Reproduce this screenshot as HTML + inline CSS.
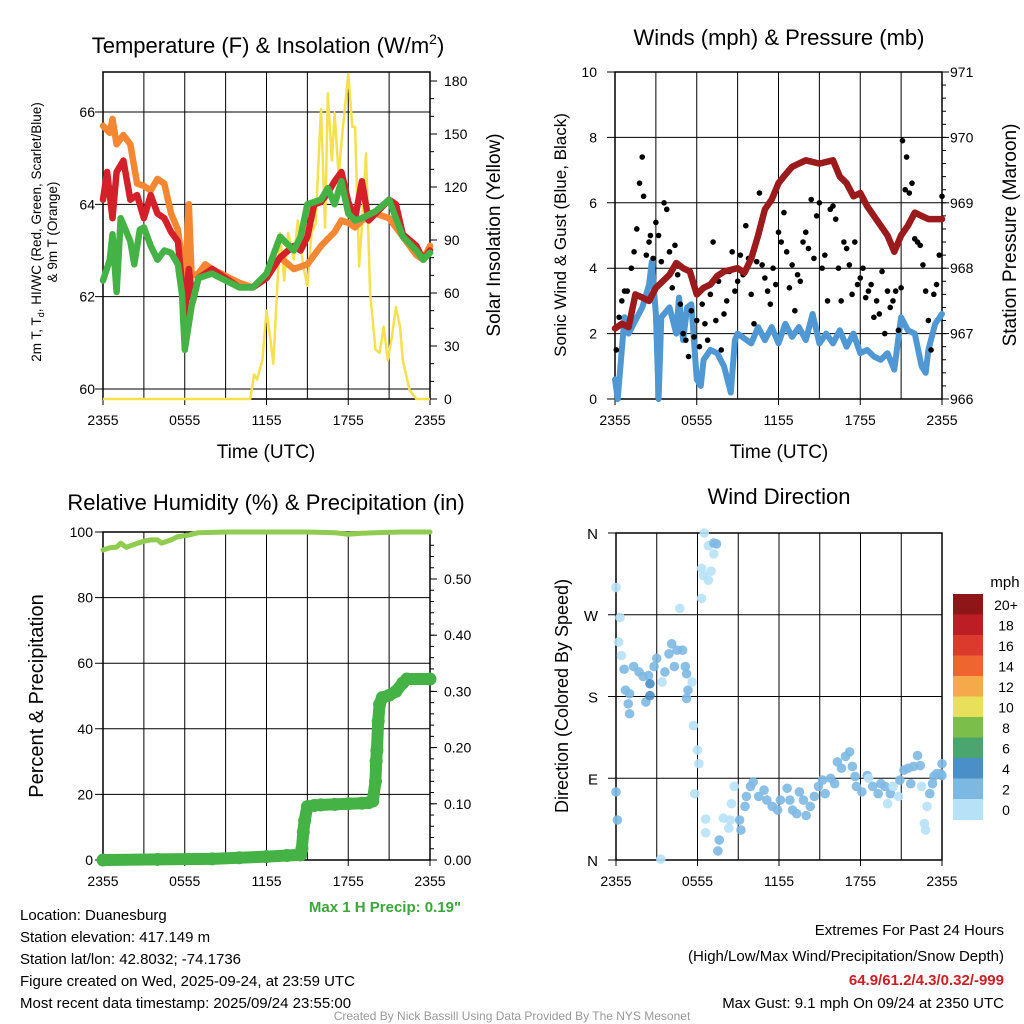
<!DOCTYPE html>
<html><head><meta charset="utf-8"><style>
body{margin:0;background:#fff;}
svg{display:block;font-family:"Liberation Sans",sans-serif;}
</style></head><body>
<svg id="s" width="1024" height="1024" viewBox="0 0 1024 1024">
<rect width="1024" height="1024" fill="#fff"/>
<g id="g"></g>
<text x="268" y="53" font-size="22" text-anchor="middle">Temperature (F) &amp; Insolation (W/m<tspan font-size="14" dy="-9">2</tspan><tspan dy="9">)</tspan></text>
<text x="779" y="45" font-size="22" text-anchor="middle">Winds (mph) &amp; Pressure (mb)</text>
<text x="266" y="510" font-size="22" text-anchor="middle">Relative Humidity (%) &amp; Precipitation (in)</text>
<text x="779" y="504" font-size="22" text-anchor="middle">Wind Direction</text>
<text transform="translate(41,232) rotate(-90)" font-size="13.5" text-anchor="middle">2m T, T<tspan font-size="9" dy="3">d</tspan><tspan dy="-3">, HI/WC (Red, Green, Scarlet/Blue)</tspan></text>
<text transform="translate(57,232) rotate(-90)" font-size="13.5" text-anchor="middle">&amp; 9m T (Orange)</text>
<text transform="translate(500,235) rotate(-90)" font-size="19" text-anchor="middle">Solar Insolation (Yellow)</text>
<text x="266" y="458" font-size="19" text-anchor="middle">Time (UTC)</text>
<text x="779" y="458" font-size="19" text-anchor="middle">Time (UTC)</text>
<text transform="translate(566,235) rotate(-90)" font-size="17" text-anchor="middle">Sonic Wind &amp; Gust (Blue, Black)</text>
<text transform="translate(1016,235) rotate(-90)" font-size="19" text-anchor="middle">Station Pressure (Maroon)</text>
<text transform="translate(43,696) rotate(-90)" font-size="20" text-anchor="middle">Percent &amp; Precipitation</text>
<text transform="translate(568,696) rotate(-90)" font-size="18" text-anchor="middle">Direction (Colored By Speed)</text>
<text x="385" y="912" font-size="15" font-weight="bold" fill="#3aa63a" text-anchor="middle">Max 1 H Precip: 0.19"</text>
<g font-size="15">
<text x="20" y="920">Location: Duanesburg</text>
<text x="20" y="942">Station elevation: 417.149 m</text>
<text x="20" y="964">Station lat/lon: 42.8032; -74.1736</text>
<text x="20" y="986">Figure created on Wed, 2025-09-24, at 23:59 UTC</text>
<text x="20" y="1008">Most recent data timestamp: 2025/09/24 23:55:00</text>
</g>
<g font-size="15" text-anchor="end">
<text x="1004" y="935">Extremes For Past 24 Hours</text>
<text x="1004" y="961">(High/Low/Max Wind/Precipitation/Snow Depth)</text>
<text x="1004" y="985" fill="#cc1f24" font-weight="bold">64.9/61.2/4.3/0.32/-999</text>
<text x="1004" y="1008">Max Gust: 9.1 mph On 09/24 at 2350 UTC</text>
</g>
<text x="512" y="1020" font-size="12" fill="#999" text-anchor="middle">Created By Nick Bassill Using Data Provided By The NYS Mesonet</text>
<text x="1005" y="587" font-size="15" text-anchor="middle">mph</text>
</svg>
<script>
// ---------- data ----------
const tTimes=[0,0.3,0.7,1,1.5,2,2.5,3,3.5,4,4.5,5,5.5,6,6.3,6.6,7,8,9,10,11,12,13,14,14.5,15,15.5,16,16.5,17,17.5,18,18.5,19,19.5,20,21,21.5,22,23,23.5,24];
const tempRed=[64.1,64.7,63.7,64.7,64.95,64.1,64.2,63.7,64.2,63.8,63.7,63.4,63.2,61.6,62.6,61.9,62.4,62.6,62.4,62.2,62.2,62.4,62.85,63.1,63.0,63.3,64.0,64.05,64.25,64.5,64.7,64.05,63.7,64.5,63.65,63.8,64.1,64.0,63.35,63.1,62.8,63.0];
const gTimes=[0,0.5,0.7,1,1.3,2,2.3,2.7,3,3.5,4,4.5,5,5.5,5.8,6,6.5,7,8,9,10,11,12,13,13.5,14,14.5,15,15.5,16,16.5,17,17.5,18,18.5,19,20,21,21.5,22,23,23.5,24];
const tempGreen=[62.35,62.8,63.35,62.1,63.7,63.2,62.7,63.45,63.5,63.1,62.8,63.0,62.95,62.7,62.05,60.85,61.8,62.4,62.5,62.35,62.2,62.2,62.5,63.3,63.15,63.0,63.3,64.0,64.05,64.1,64.35,64.0,64.5,63.8,63.65,63.7,63.85,64.1,63.7,63.3,63.0,62.8,62.95];
const oTimes=[0,0.5,0.7,1,1.5,2,2.5,3,3.5,4,4.5,5,5.5,6,6.3,6.5,7,7.5,8,9,10,11,12,13,14,15,16,17,17.5,18,18.5,19,20,21,22,23,23.5,24];
const tempOrange=[65.7,65.55,65.85,65.3,65.5,65.3,64.45,64.4,64.3,64.55,64.45,63.8,63.45,62.3,64.0,62.45,62.5,62.7,62.6,62.45,62.3,62.2,62.45,62.85,62.6,62.7,63.1,63.4,63.65,63.6,63.5,63.65,63.8,63.7,63.3,62.9,62.8,63.1];
const solTimes=[0,10.8,11.1,11.3,11.7,12,12.3,12.5,13,13.3,13.6,14,14.3,14.7,15,15.3,15.6,16,16.3,16.5,16.8,17,17.3,17.5,18,18.3,18.5,18.8,19,19.3,19.6,20,20.3,20.6,20.9,21.2,21.5,21.8,22,22.5,23,24];
const solar=[0,0,14,11,22,50,33,20,94,67,94,79,101,75,64,94,99,164,97,173,135,162,126,145,184,154,154,75,98,139,60,28,26,41,22,35,52,41,22,5,0,0];
const wTimes=[0,0.2,0.5,0.7,1,1.5,2,2.5,2.7,3,3.2,3.4,4,4.5,4.7,5,5.3,5.6,6,6.3,6.5,7,7.5,8,8.5,8.8,9,10,10.5,11,11.5,12,12.5,13,13.5,14,14.5,15,15.5,16,16.5,17,17.5,18,18.5,19,19.5,20,20.5,21,21.5,22,22.5,22.8,23,23.5,24];
const windSpeed=[0.6,0,1.5,2.5,2,2.4,2.8,3.5,4.2,2.6,0,2.5,2.8,2,3.1,1.8,2.8,2.9,0.6,0.4,1.2,1.5,1.4,1.0,0.2,1.8,2.0,1.7,2.2,1.8,2.2,1.7,2.3,1.9,2.2,1.8,2.6,1.7,2.0,1.7,2.1,1.6,2.0,1.4,1.5,1.3,1.2,1.4,0.9,2.5,2.1,2.0,1.0,0.8,1.5,2.3,2.6];
const pTimes=[0,0.5,1,1.5,2,2.5,3,3.5,4,4.5,5,5.5,6,6.5,7,7.5,8,9,9.5,10,10.5,11,11.5,12,12.5,13,13.5,14,15,16,16.5,17,17.5,18,18.5,19,19.5,20,20.5,21,21.5,22,22.5,23,24];
const pressure=[967.08,967.15,967.1,967.6,967.55,967.5,967.7,967.8,967.9,968.08,968.0,967.95,967.6,967.7,967.75,967.88,967.95,968.0,967.93,968.15,968.5,968.9,969.05,969.3,969.43,969.55,969.6,969.65,969.6,969.65,969.4,969.3,969.1,969.15,968.95,968.8,968.65,968.5,968.25,968.5,968.65,968.85,968.8,968.75,968.75];
const gustTimes=[0.1,0.3,0.5,0.7,0.9,1.2,1.4,1.6,1.8,2.0,2.1,2.3,2.5,2.6,2.8,3.0,3.2,3.4,3.6,3.8,4.0,4.2,4.4,4.6,4.8,5.0,5.2,5.4,5.6,5.8,6.0,6.2,6.4,6.6,6.8,7.0,7.2,7.4,7.6,7.8,8.0,8.2,8.4,8.6,8.8,9.0,9.2,9.4,9.6,9.8,10.0,10.2,10.4,10.6,10.8,11.0,11.2,11.4,11.6,11.8,12.0,12.2,12.4,12.6,12.8,13.0,13.2,13.4,13.6,13.8,14.0,14.2,14.4,14.6,14.8,15.0,15.2,15.4,15.6,15.8,16.0,16.2,16.4,16.6,16.8,17.0,17.2,17.4,17.6,17.8,18.0,18.2,18.4,18.6,18.8,19.0,19.2,19.4,19.6,19.8,20.0,20.2,20.4,20.6,20.8,21.0,21.1,21.3,21.4,21.6,21.8,22.0,22.2,22.4,22.6,22.8,23.0,23.2,23.4,23.6,23.8,24.0];
const gustSpeed=[1.5,2.5,3.0,3.3,3.3,4.0,4.5,5.2,6.6,7.4,6.2,4.4,4.8,5.0,4.3,5.4,5.0,4.2,6.0,5.8,4.5,3.4,4.7,3.8,2.9,2.0,1.8,1.3,2.7,1.9,2.4,1.6,2.9,2.3,1.8,3.2,4.8,2.4,3.6,1.5,2.6,3.0,3.9,4.5,3.3,3.6,4.4,3.8,5.3,4.3,3.2,2.3,4.2,6.3,4.1,3.7,3.3,2.9,4.0,3.5,5.1,4.8,5.7,4.5,3.4,4.1,2.7,3.8,3.6,4.8,5.1,4.6,6.1,4.3,5.6,6.0,4.0,4.4,3.0,5.8,5.9,5.5,4.0,3.0,4.8,4.6,4.1,3.2,4.8,3.5,3.7,4.0,3.1,3.3,3.5,2.5,3.0,2.6,3.9,2.0,3.3,2.8,3.0,3.3,2.1,3.4,7.9,6.4,7.4,6.3,6.6,4.9,4.8,4.7,4.1,3.3,2.4,1.5,3.2,3.5,4.4,6.2,6.6,9.1];
const rhTimes=[0,0.5,1,1.3,1.7,2,3,3.5,4,4.3,5,5.5,6.2,7,9,12,15,17,18,19,20,22,24];
const rh=[94.5,95.2,95.4,96.6,95.3,95.8,97.2,97.6,97.6,96.6,97.6,98.6,99,99.8,100,100,100,99.8,99.3,99.6,99.8,100,100];
const prTimes=[0,4,8,10,12,13.5,14.5,14.6,14.7,14.8,15,15.5,16,17,18,19,19.5,19.8,20,20.05,20.1,20.2,20.3,20.5,21,21.5,22,22.3,24];
const precip=[0,0.001,0.002,0.004,0.006,0.008,0.009,0.02,0.05,0.07,0.095,0.097,0.098,0.099,0.1,0.101,0.102,0.105,0.14,0.176,0.195,0.247,0.277,0.289,0.293,0.30,0.315,0.322,0.322];
const dirTimes=[0,0.3,0.2,0.4,0.6,1.3,1.7,0.7,1,0.9,1,2,2.4,2.2,2.5,2.5,3,2.8,3.6,3.9,4.1,4.5,4.9,4.3,5.1,5.2,5.3,5.6,3.4,5.2,5.7,6,6.1,5.8,0,0.1,3.3,4.7,6.3,6.3,6.45,6.8,7,6.5,6.8,7.2,7.4,7.2,6.6,6.6,7.5,7.6,7.9,8.4,8.7,8.5,8.3,9.1,9.2,9.5,9.6,9.9,10.1,10.5,10.9,11.1,11.5,11.9,12.1,12.6,12.8,13,13.3,13.5,13.8,14,14.3,14.6,14.9,15.2,15.4,15.8,16.1,16.3,16.6,16.9,17.2,17.4,17.6,17.7,18.1,18.5,18.6,18.9,19.3,19.5,19.8,20,20.2,20.4,20.8,20.9,21.2,21.5,21.9,22.2,21.7,22.4,22.5,22.7,22.8,22.9,23.1,23.3,23.4,23.6,23.9,24,24];
const dirDeg=[300,267,240,225,210,213,207,187,183,172,161,202,203,174,181,194,222,213,207,227,238,231,231,213,213,205,187,196,196,178,148,121,106,73,75,44,1,277,288,321,313,308,318,360,346,349,348,337,45,30,10,22,46,44,81,62,35,44,33,59,70,81,86,70,77,66,59,55,66,79,66,55,51,75,66,49,59,70,81,88,73,90,84,108,101,114,119,103,92,81,75,93,90,81,73,84,81,62,73,81,70,88,99,101,103,115,84,104,81,40,33,59,73,84,92,95,95,106,93];
const dirSpeed=[0,0,0,0,2,2,2,2,2,2,2,2,2,3,4,4,2,2,2,2,2,2,2,2,2,2,2,1,0,2,0,0,0,0,2,2,0,0,0,0,0,0,0,0,0,2,3,0,0,0,3,2,1,0,0,0,0,2,2,2,2,2,2,2,2,2,2,2,2,2,2,2,2,2,2,2,2,2,2,2,2,2,2,2,2,2,2,2,2,2,2,2,0,2,2,2,2,0,2,0,0,2,2,2,2,2,2,2,0,0,0,0,2,2,2,2,2,3,2];
const legendLabels=["20+","18","16","14","12","10","8","6","4","2","0"];
const legendColors=["#8e1619","#bd1e25","#dd3a2e","#ee6530","#f5a94a","#e8e05a","#7bbf4a","#4aa56e","#4a8fc7","#7db8e3","#b7e1f7"];
const xTickLabels=["2355","0555","1155","1755","2355"];

// ---------- helpers ----------
const NS="http://www.w3.org/2000/svg";
const G=document.getElementById('g');
function mk(tag,attrs,parent){const e=document.createElementNS(NS,tag);for(const k in attrs)e.setAttribute(k,attrs[k]);(parent||G).appendChild(e);return e;}
function lin(d0,d1,r0,r1){return v=>r0+(v-d0)/(d1-d0)*(r1-r0);}
function path(ts,vs,fx,fy){return ts.map((t,i)=>(i?'L':'M')+fx(t).toFixed(1)+','+fy(vs[i]).toFixed(1)).join('');}

function panel(name,x0,x1,y0,y1,hTicks,fy){
  const fx=lin(0,24,x0,x1);
  for(let h=0;h<=24;h+=3){const l=mk('line',{x1:fx(h),x2:fx(h),y1:y0,y2:y1,stroke:'#000','stroke-width':1});
    
    }
  hTicks.forEach(v=>{const l=mk('line',{x1:x0-8,x2:x1,y1:fy(v),y2:fy(v),stroke:'#000','stroke-width':1});
    
    });
  const r=mk('rect',{x:x0,y:y0,width:x1-x0,height:y1-y0,fill:'none',stroke:'#000','stroke-width':1.5});
  
  
  xTickLabels.forEach((s,i)=>{const tx=mk('text',{x:fx(i*6),y:y1+26,'font-size':14,'text-anchor':'middle'});tx.textContent=s;
    
    
    mk('line',{x1:fx(i*6),x2:fx(i*6),y1:y1,y2:y1+6,stroke:'#000'});});
  return fx;
}
function yLabels(name,vals,fy,x,anchor,fmt){vals.forEach(v=>{const t=mk('text',{x:x,y:fy(v)+5,'font-size':14,'text-anchor':anchor});t.textContent=fmt?fmt(v):v;
  
  });}
function rightTicks(x,vals,fy,len){vals.forEach(v=>mk('line',{x1:x,x2:x+len,y1:fy(v),y2:fy(v),stroke:'#000'}));}

// ---------- panel 1 ----------
{
 const fy=lin(60,66,389,112), fs=lin(0,180,399,81);
 const fx=panel('temp',103,430,72,399,[60,62,64,66],fy);
 yLabels('temp-y',[60,62,64,66],fy,95,'end');
 rightTicks(430,[0,30,60,90,120,150,180],fs,7);
 const minor=[];for(let v=10;v<=180;v+=10)minor.push(v);rightTicks(430,minor,fs,4);
 yLabels('insolation-y',[0,30,60,90,120,150,180],fs,444,'start');
 let p=mk('path',{d:path(solTimes,solar,fx,fs),fill:'none',stroke:'#f7e04e','stroke-width':2.5,'stroke-linejoin':'round'});
 
 
 p=mk('path',{d:path(oTimes,tempOrange,fx,fy),fill:'none',stroke:'#f58733','stroke-width':6.5,'stroke-linejoin':'round','stroke-linecap':'round'});
 
 
 p=mk('path',{d:path(tTimes,tempRed,fx,fy),fill:'none',stroke:'#d42028','stroke-width':6.5,'stroke-linejoin':'round','stroke-linecap':'round'});
 
 
 p=mk('path',{d:path(gTimes,tempGreen,fx,fy),fill:'none',stroke:'#45b245','stroke-width':6.5,'stroke-linejoin':'round','stroke-linecap':'round'});
 
 
}
// ---------- panel 2 ----------
{
 const fy=lin(0,10,399,72), fp=lin(966,971,399,72);
 const fx=panel('winds',615,942,72,399,[0,2,4,6,8,10],fy);
 yLabels('wind-y',[0,2,4,6,8,10],fy,597,'end');
 rightTicks(942,[966,967,968,969,970,971],fp,7);
 const minor=[];for(let v=966;v<=971;v+=0.2)minor.push(v);rightTicks(942,minor,fp,4);
 yLabels('pressure-y',[966,967,968,969,970,971],fp,950,'start');
 let p=mk('path',{d:path(wTimes,windSpeed,fx,fy),fill:'none',stroke:'#4f98d3','stroke-width':6,'stroke-linejoin':'round','stroke-linecap':'round'});
 
 
 gustTimes.forEach((t,i)=>{const c=mk('circle',{cx:fx(t),cy:fy(gustSpeed[i]),r:2.8,fill:'#000'});
   
   });
 p=mk('path',{d:path(pTimes,pressure,fx,fp),fill:'none',stroke:'#9b1a1c','stroke-width':6.5,'stroke-linejoin':'round','stroke-linecap':'round'});
 
 
}
// ---------- panel 3 ----------
{
 const fy=lin(0,100,860,532), fpr=lin(0,0.5,860,579);
 const fx=panel('humidity',103,430,532,860,[0,20,40,60,80,100],fy);
 yLabels('percent-y',[0,20,40,60,80,100],fy,93,'end');
 rightTicks(430,[0,0.1,0.2,0.3,0.4,0.5],fpr,7);
 const minor=[];for(let v=0;v<=0.58;v+=0.02)minor.push(v);rightTicks(430,minor,fpr,4);
 yLabels('precip-y',[0,0.1,0.2,0.3,0.4,0.5],fpr,444,'start',v=>v.toFixed(2));
 let p=mk('path',{d:path(rhTimes,rh,fx,fy),fill:'none',stroke:'#8fcc4f','stroke-width':5,'stroke-linejoin':'round','stroke-linecap':'round'});
 
 
 p=mk('path',{d:path(prTimes,precip,fx,fpr),fill:'none',stroke:'#45b245','stroke-width':12,'stroke-linejoin':'round','stroke-linecap':'round'});
 
 
 prTimes.forEach((t,i)=>{const c=mk('circle',{cx:fx(t),cy:fpr(precip[i]),r:6.5,fill:'#45b245'});
   
   });
}
// ---------- panel 4 ----------
{
 const fy=lin(0,360,860,533);
 const fx=panel('direction',616,942,533,860,[0,90,180,270,360],fy);
 const dl=['N','E','S','W','N'];
 [0,90,180,270,360].forEach((v,i)=>{const t=mk('text',{x:598,y:fy(v)+6,'font-size':15,'text-anchor':'end'});t.textContent=dl[i];
   
   });
 const colFor=s=>legendColors[10-Math.min(10,Math.floor(s/2))];
 dirTimes.forEach((t,i)=>{const c=mk('circle',{cx:fx(t),cy:fy(dirDeg[i]),r:4.8,fill:colFor(dirSpeed[i]),'fill-opacity':0.9});
   
   });
 const by=594,bh=20.5;
 legendColors.forEach((c,i)=>{const r=mk('rect',{x:953,y:by+i*bh,width:30,height:bh+0.5,fill:c});
   
   
   const t=mk('text',{x:1006,y:by+i*bh+16,'font-size':14,'text-anchor':'middle'});t.textContent=legendLabels[i];
   
   });
}
</script>
</body></html>
